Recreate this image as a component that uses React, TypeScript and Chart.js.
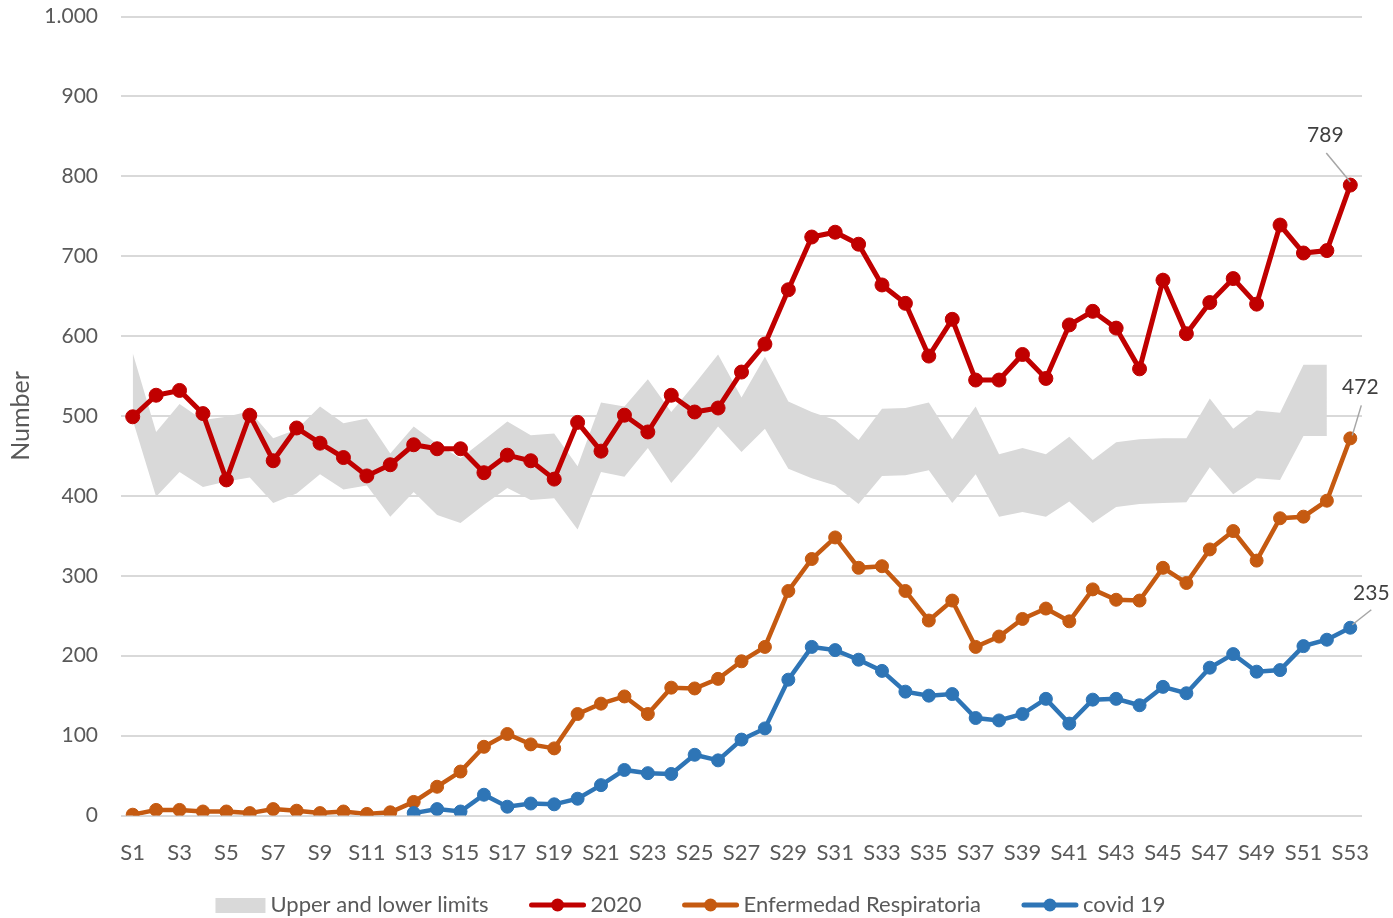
import React, { useEffect, useRef } from 'react';
import { Chart, registerables } from 'chart.js';

Chart.register(...registerables);

const weeks = [
  'S1', 'S2', 'S3', 'S4', 'S5', 'S6', 'S7', 'S8', 'S9', 'S10',
  'S11', 'S12', 'S13', 'S14', 'S15', 'S16', 'S17', 'S18', 'S19', 'S20',
  'S21', 'S22', 'S23', 'S24', 'S25', 'S26', 'S27', 'S28', 'S29', 'S30',
  'S31', 'S32', 'S33', 'S34', 'S35', 'S36', 'S37', 'S38', 'S39', 'S40',
  'S41', 'S42', 'S43', 'S44', 'S45', 'S46', 'S47', 'S48', 'S49', 'S50',
  'S51', 'S52', 'S53',
];

const upperLimit = [
  579, 480, 515, 495, 499, 506, 472, 483, 512, 491,
  497, 453, 487, 465, 447, 470, 493, 476, 478, 437,
  517, 512, 546, 505, 540, 577, 523, 574, 518, 505,
  495, 470, 509, 510, 517, 471, 512, 452, 460, 452,
  474, 445, 467, 471, 472, 472, 522, 484, 507, 504,
  564, 564, null,
];

const lowerLimit = [
  495, 399, 430, 411, 418, 423, 391, 403, 427, 408,
  413, 374, 405, 376, 366, 389, 410, 395, 397, 358,
  430, 424, 460, 416, 450, 487, 455, 484, 434, 422,
  413, 390, 425, 426, 432, 391, 427, 374, 380, 374,
  393, 366, 386, 390, 391, 392, 436, 402, 422, 420,
  475, 475, null,
];

const series2020 = [
  499, 526, 532, 503, 420, 501, 444, 485, 466, 448,
  425, 439, 464, 459, 459, 429, 451, 444, 421, 492,
  456, 501, 480, 526, 505, 510, 555, 590, 658, 724,
  730, 715, 664, 641, 575, 621, 545, 545, 577, 547,
  614, 631, 610, 559, 670, 603, 642, 672, 640, 739,
  704, 707, 789,
];

const enfermedadRespiratoria = [
  1, 7, 7, 5, 5, 3, 8, 6, 3, 5,
  2, 4, 17, 36, 55, 86, 102, 89, 84, 127,
  140, 149, 127, 160, 159, 171, 193, 211, 281, 321,
  348, 310, 312, 281, 244, 269, 211, 224, 246, 259,
  243, 283, 270, 269, 310, 291, 333, 356, 319, 372,
  374, 394, 472,
];

const covid19 = [
  null, null, null, null, null, null, null, null, null, null,
  null, null, 3, 8, 5, 26, 11, 15, 14, 21,
  38, 57, 53, 52, 76, 69, 95, 109, 170, 211,
  207, 195, 181, 155, 150, 152, 122, 119, 127, 146,
  115, 145, 146, 138, 161, 153, 185, 202, 180, 182,
  212, 220, 235,
];

const legendLabels = ['Upper and lower limits', '2020', 'Enfermedad Respiratoria', 'covid 19'];

const BAND = '#d9d9d9';
const RED = '#c00000';
const ORANGE = '#c55a11';
const BLUE = '#2e75b6';
const TEXT = '#595959';
const FONT = 'Lato, "Liberation Sans", sans-serif';

const formatThousands = (v: number) => String(v).replace(/\B(?=(\d{3})+(?!\d))/g, '.');

const endLabelsPlugin = {
  id: 'endLabels',
  afterDatasetsDraw(chart: any) {
    const ctx = chart.ctx;
    const specs = [
      { ds: 2, tx: -25, ty: -50, l1: [0, -3], l2: [-24, -32] },
      { ds: 3, tx: 10, ty: -51, l1: [2, -3], l2: [11, -33] },
      { ds: 4, tx: 21, ty: -35, l1: [2, -3], l2: [21, -18] },
    ];
    ctx.save();
    specs.forEach((s) => {
      const meta = chart.getDatasetMeta(s.ds);
      const data = chart.data.datasets[s.ds].data;
      const idx = data.length - 1;
      const pt = meta.data[idx];
      if (!pt) return;
      ctx.strokeStyle = '#a6a6a6';
      ctx.lineWidth = 1.5;
      ctx.beginPath();
      ctx.moveTo(pt.x + s.l1[0], pt.y + s.l1[1]);
      ctx.lineTo(pt.x + s.l2[0], pt.y + s.l2[1]);
      ctx.stroke();
      ctx.fillStyle = '#404040';
      ctx.font = `21px ${FONT}`;
      ctx.textAlign = 'center';
      ctx.textBaseline = 'middle';
      ctx.fillText(String(data[idx]), pt.x + s.tx, pt.y + s.ty);
    });
    ctx.restore();
  },
};

const customLegendPlugin = {
  id: 'customLegend',
  afterDraw(chart: any) {
    const ctx = chart.ctx;
    const items = [
      { text: legendLabels[0], type: 'rect', color: BAND },
      { text: legendLabels[1], type: 'line', color: RED },
      { text: legendLabels[2], type: 'line', color: ORANGE },
      { text: legendLabels[3], type: 'line', color: BLUE },
    ];
    ctx.save();
    ctx.font = `22px ${FONT}`;
    const swW = (t: string) => (t === 'rect' ? 50 : 56);
    const gapIn = 5;
    const gapOut = 41;
    let total = 0;
    items.forEach((it, i) => {
      total += swW(it.type) + gapIn + ctx.measureText(it.text).width;
      if (i < items.length - 1) total += gapOut;
    });
    let x = 690.5 - total / 2;
    const y = 905;
    items.forEach((it) => {
      const w = swW(it.type);
      if (it.type === 'rect') {
        ctx.fillStyle = it.color;
        ctx.fillRect(x, y - 7, w, 15);
      } else {
        ctx.strokeStyle = it.color;
        ctx.lineWidth = 5;
        ctx.lineCap = 'round';
        ctx.beginPath();
        ctx.moveTo(x + 2, y);
        ctx.lineTo(x + w - 2, y);
        ctx.stroke();
        ctx.fillStyle = it.color;
        ctx.beginPath();
        ctx.arc(x + w / 2, y, 6.5, 0, Math.PI * 2);
        ctx.fill();
      }
      x += w + gapIn;
      ctx.fillStyle = TEXT;
      ctx.textAlign = 'left';
      ctx.textBaseline = 'middle';
      ctx.fillText(it.text, x, y);
      x += ctx.measureText(it.text).width + gapOut;
    });
    ctx.restore();
  },
};

export default function App() {
  const canvasRef = useRef<HTMLCanvasElement | null>(null);

  useEffect(() => {
    document.body.style.margin = '0';
    const canvas = canvasRef.current;
    if (!canvas) return;
    const chart = new Chart(canvas, {
      type: 'line',
      data: {
        labels: weeks,
        datasets: [
          {
            label: 'Upper limit',
            data: upperLimit,
            borderWidth: 0,
            borderColor: BAND,
            backgroundColor: BAND,
            pointRadius: 0,
            fill: '+1',
            order: 10,
          },
          {
            label: 'Lower limit',
            data: lowerLimit,
            borderWidth: 0,
            borderColor: BAND,
            backgroundColor: BAND,
            pointRadius: 0,
            fill: false,
            order: 10,
          },
          {
            label: '2020',
            data: series2020,
            borderColor: RED,
            backgroundColor: RED,
            borderWidth: 5,
            pointRadius: 7,
            pointBorderWidth: 1,
            pointBackgroundColor: RED,
            pointBorderColor: RED,
            fill: false,
            order: 3,
          },
          {
            label: 'Enfermedad Respiratoria',
            data: enfermedadRespiratoria,
            borderColor: ORANGE,
            backgroundColor: ORANGE,
            borderWidth: 4.5,
            pointRadius: 6.5,
            pointBorderWidth: 1,
            pointBackgroundColor: ORANGE,
            pointBorderColor: ORANGE,
            fill: false,
            order: 2,
          },
          {
            label: 'covid 19',
            data: covid19,
            borderColor: BLUE,
            backgroundColor: BLUE,
            borderWidth: 4.5,
            pointRadius: 6.5,
            pointBorderWidth: 1,
            pointBackgroundColor: BLUE,
            pointBorderColor: BLUE,
            fill: false,
            order: 1,
          },
        ],
      },
      options: {
        responsive: true,
        maintainAspectRatio: false,
        animation: false,
        layout: { padding: { top: 0, right: 31, bottom: 42.5, left: 0 } },
        plugins: {
          legend: { display: false },
          tooltip: { enabled: false },
          filler: { drawTime: 'beforeDatasetsDraw' },
        },
        scales: {
          x: {
            type: 'category',
            offset: true,
            grid: { display: false },
            border: { display: false },
            ticks: {
              autoSkip: false,
              maxRotation: 0,
              minRotation: 0,
              padding: 16,
              color: TEXT,
              font: { family: FONT, size: 22 },
              callback: (_v: any, i: number) => (i % 2 === 0 ? weeks[i] : ''),
            },
            afterFit: (s: any) => {
              s.height = 60;
            },
          },
          y: {
            min: 0,
            max: 1000,
            ticks: {
              stepSize: 100,
              padding: 23,
              color: TEXT,
              font: { family: FONT, size: 21 },
              callback: (v: any) => formatThousands(Number(v)),
            },
            grid: { color: '#d9d9d9', lineWidth: 2, drawTicks: false },
            border: { display: false },
            title: {
              display: true,
              text: 'Number',
              color: TEXT,
              font: { family: FONT, size: 25 },
              padding: { top: 6, bottom: 0 },
            },
            afterFit: (s: any) => {
              s.width = 121;
              s.paddingTop = 16.5;
              s.paddingBottom = 0;
            },
          },
        },
      },
      plugins: [endLabelsPlugin, customLegendPlugin],
    } as any);
    return () => chart.destroy();
  }, []);

  return (
    <div style={{ width: 1393, height: 918, position: 'relative' }}>
      <canvas ref={canvasRef} />
    </div>
  );
}
